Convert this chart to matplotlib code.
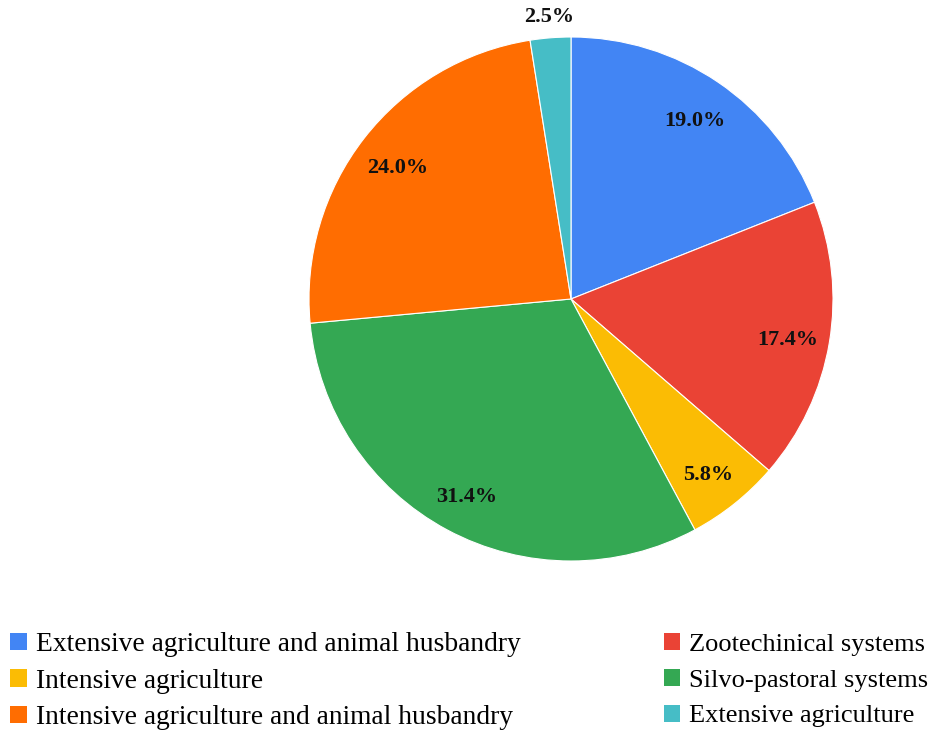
import matplotlib.pyplot as plt
from matplotlib.patches import Patch

labels = ['Extensive agriculture and animal husbandry', 'Zootechinical systems',
          'Intensive agriculture', 'Silvo-pastoral systems',
          'Intensive agriculture and animal husbandry', 'Extensive agriculture']
shares = [19.0, 17.4, 5.8, 31.4, 24.0, 2.5]
colors = ['#4285F4', '#EA4335', '#FBBC04', '#34A853', '#FF6D01', '#46BDC6']

plt.rcParams['font.family'] = ['Liberation Serif', 'DejaVu Serif']

fig = plt.figure(figsize=(9.36, 7.31), dpi=100)
ax = fig.add_axes([309 / 936, 170 / 731, 524 / 936, 524 / 731])

wedges, texts, autotexts = ax.pie(
    shares, colors=colors, startangle=90, counterclock=False,
    autopct='%1.1f%%', pctdistance=0.84,
    wedgeprops=dict(edgecolor='white', linewidth=0.8),
    textprops=dict(fontsize=16, fontweight='bold', color='#111111'))
ax.set_xlim(-1, 1)
ax.set_ylim(-1, 1)
ax.set_aspect('equal')

# nudge labels a touch lower, like the original
for t in autotexts:
    x, y = t.get_position()
    t.set_position((x, y - 0.015))

# small slice label sits outside the pie
x, y = autotexts[-1].get_position()
autotexts[-1].set_position((x / 0.84 * 1.08, (y + 0.015) / 0.84 * 1.08))

handles = [Patch(facecolor=c, edgecolor='none') for c in colors]
legend_kw = dict(frameon=False, handlelength=0.6, handleheight=0.6,
                 handletextpad=0.35, borderaxespad=0, borderpad=0)
fig.legend(handles[0::2], labels[0::2], loc='upper left', fontsize=19.8,
           labelspacing=0.42, bbox_to_anchor=(10 / 936, 1 - 632 / 731), **legend_kw)
fig.legend(handles[1::2], labels[1::2], loc='upper left', fontsize=19.0,
           labelspacing=0.50, bbox_to_anchor=(664 / 936, 1 - 633 / 731), **legend_kw)

fig.savefig('out.png', dpi=100)
